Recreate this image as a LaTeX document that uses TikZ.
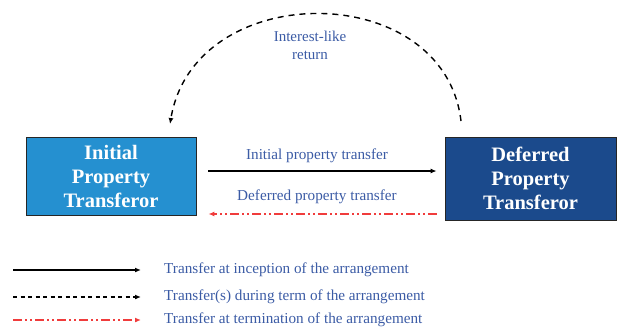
\documentclass[tikz,border=0pt]{standalone}
\usepackage{fontspec}
\setmainfont{Liberation Serif}
\usetikzlibrary{arrows.meta,calc}
\definecolor{lblue}{HTML}{2590D0}
\definecolor{dblue}{HTML}{1B4A8C}
\definecolor{tblue}{HTML}{3B5BA5}
\definecolor{rred}{HTML}{F03C3C}
\tikzset{
  party/.style={draw=black!85, line width=0.8pt, text=white, align=center,
    font=\fontsize{20.5}{24}\selectfont\bfseries, inner sep=0pt},
  lbl/.style={text=tblue, font=\fontsize{15.2}{17}\selectfont, inner sep=0pt},
  tip/.style={-{Latex[length=6pt,width=5pt]}},
  solidarr/.style={tip, line width=1.6pt, black},
  dasharr/.style={tip, line width=1.4pt, black, dash pattern=on 5pt off 4pt},
  redarr/.style={tip, line width=1.4pt, rred, dash pattern=on 9pt off 3pt on 2pt off 3pt on 2pt off 3pt},
}
\begin{document}
\begin{tikzpicture}[x=1pt,y=-1pt]
\useasboundingbox (0,0) rectangle (617,329);
\node[party, fill=lblue, minimum width=170pt, minimum height=78pt] (ipt) at (111,176) {Initial\\Property\\Transferor};
\node[party, fill=dblue, minimum width=171pt, minimum height=83pt] (dpt) at (530.5,178.5) {Deferred\\Property\\Transferor};
\coordinate (ya) at (0,171);
\coordinate (yb) at (0,214);
\draw[solidarr, shorten <=12pt, shorten >=8pt] (ipt.east |- ya) -- (dpt.west |- ya);
\draw[redarr, shorten <=8pt, shorten >=12pt] (dpt.west |- yb) -- (ipt.east |- yb);
\node[lbl] (l1) at (317,156) {Initial property transfer};
\node[lbl] (l2) at (317,197) {Deferred property transfer};
\coordinate (arcS) at (461,121);
\coordinate (arcE) at (170,124);
\draw[dasharr, dash pattern=on 6pt off 5pt] (arcS) .. controls (444,-22) and (194,-22) .. (arcE);
\node[lbl, align=center, font=\fontsize{15}{17.5}\selectfont] (l3) at (310,45.5) {Interest-like\\return};
% legend
\coordinate (a1) at (13,270); \coordinate (b1) at (141,270);
\coordinate (a2) at (13,297); \coordinate (b2) at (141,297);
\coordinate (a3) at (13,320); \coordinate (b3) at (141,320);
\draw[solidarr, line width=1.4pt] (a1) -- (b1);
\draw[dasharr, line width=1.2pt, dash pattern=on 4pt off 3.5pt] (a2) -- (b2);
\draw[redarr, line width=1.2pt] (a3) -- (b3);
\node[lbl, anchor=west] (t1) at (164,270) {Transfer at inception of the arrangement};
\node[lbl, anchor=west] (t2) at (164,297) {Transfer(s) during term of the arrangement};
\node[lbl, anchor=west] (t3) at (164,320) {Transfer at termination of the arrangement};
\end{tikzpicture}
\end{document}
